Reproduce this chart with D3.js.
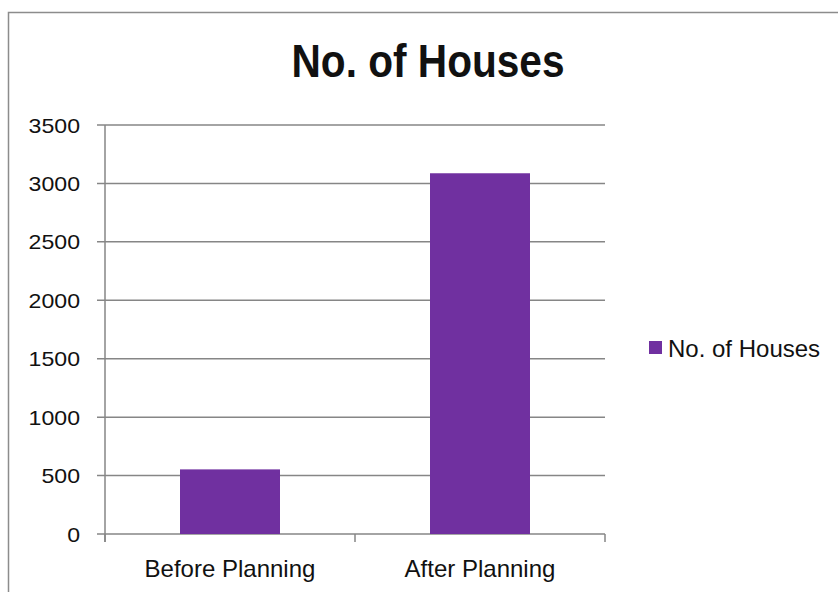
<!DOCTYPE html>
<html>
<head>
<meta charset="utf-8">
<script src="https://cdn.jsdelivr.net/npm/d3@7"></script>
<style>
  body { margin: 0; background: #fff; }
  text { font-family: "Liberation Sans", Arial, sans-serif; fill: #111; }
</style>
</head>
<body>
<svg id="chart"></svg>
<script>
var categories = ['Before Planning', 'After Planning']
var values = [553, 3087]
var yTicks = [0, 500, 1000, 1500, 2000, 2500, 3000, 3500]
var seriesName = 'No. of Houses'

var width = 838, height = 592
var plot = {left: 105, right: 605, top: 125, bottom: 534}
var barColor = '#7030a0'
var gridColor = '#868686'

var svg = d3.select('#chart')
  .attr('width', width)
  .attr('height', height)

// chart frame
svg.append('rect')
  .attr('x', 8.5).attr('y', 12.5)
  .attr('width', 840).attr('height', 600)
  .attr('fill', 'none')
  .attr('stroke', '#8c8c8c')
  .attr('stroke-width', 1.5)

var x = d3.scaleBand()
  .domain(categories)
  .range([plot.left, plot.right])
  .paddingInner(0.6)
  .paddingOuter(0.3)

var y = d3.scaleLinear()
  .domain([0, 3500])
  .range([plot.bottom, plot.top])

// gridlines
svg.append('g')
  .selectAll('line')
  .data(yTicks)
  .enter().append('line')
    .attr('x1', plot.left - 8)
    .attr('x2', plot.right)
    .attr('y1', d => y(d))
    .attr('y2', d => y(d))
    .attr('stroke', gridColor)
    .attr('stroke-width', 1.5)

// y labels
svg.append('g')
  .selectAll('text')
  .data(yTicks)
  .enter().append('text')
    .attr('x', 80)
    .attr('y', d => y(d))
    .attr('dy', '0.36em')
    .attr('text-anchor', 'end')
    .style('font-size', '21px')
    .text(d => d)
    .each(function() {
      // reference digits are a bit wider than Liberation's
      var w = this.getComputedTextLength()
      d3.select(this).attr('textLength', w * 1.1).attr('lengthAdjust', 'spacingAndGlyphs')
    })

// bars
svg.append('g')
  .selectAll('rect')
  .data(values)
  .enter().append('rect')
    .attr('x', (d, i) => x(categories[i]))
    .attr('y', d => y(d))
    .attr('width', x.bandwidth())
    .attr('height', d => y(0) - y(d))
    .attr('fill', barColor)

// axes lines
svg.append('line')
  .attr('x1', plot.left).attr('x2', plot.left)
  .attr('y1', plot.top).attr('y2', plot.bottom + 8)
  .attr('stroke', gridColor).attr('stroke-width', 1.5)

var step = x.step()
svg.append('g')
  .selectAll('line')
  .data([0, 1, 2])
  .enter().append('line')
    .attr('x1', d => plot.left + d * step)
    .attr('x2', d => plot.left + d * step)
    .attr('y1', plot.bottom)
    .attr('y2', plot.bottom + 8)
    .attr('stroke', gridColor).attr('stroke-width', 1.5)

// x labels
svg.append('g')
  .selectAll('text')
  .data(categories)
  .enter().append('text')
    .attr('x', d => x(d) + x.bandwidth() / 2)
    .attr('y', 577)
    .attr('text-anchor', 'middle')
    .style('font-size', '24px')
    .text(d => d)

// title
svg.append('text')
  .attr('x', 428)
  .attr('y', 77)
  .attr('text-anchor', 'middle')
  .attr('textLength', 273)
  .attr('lengthAdjust', 'spacingAndGlyphs')
  .style('font-size', '46px')
  .style('font-weight', 'bold')
  .text(seriesName)

// legend
var lg = svg.append('g').attr('transform', 'translate(649,341)')
lg.append('rect')
  .attr('width', 13).attr('height', 13)
  .attr('fill', barColor)
lg.append('text')
  .attr('x', 19)
  .attr('y', 7)
  .attr('dy', '0.36em')
  .style('font-size', '24px')
  .text(seriesName)
</script>
</body>
</html>
